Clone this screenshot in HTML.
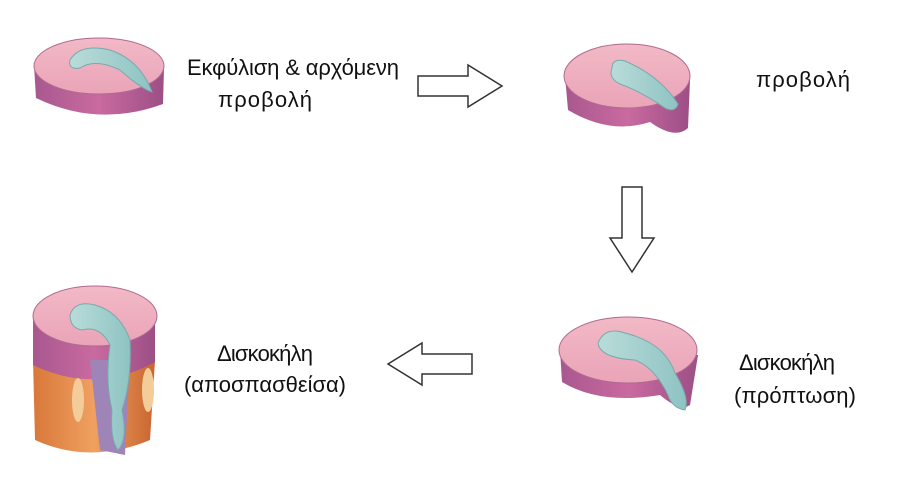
<!DOCTYPE html>
<html><head><meta charset="utf-8"><style>
html,body{margin:0;padding:0;background:#fff}
svg{display:block}
text{font-family:"Liberation Sans","DejaVu Sans",sans-serif;font-size:22px;fill:#111}
</style></head><body>
<svg width="913" height="495" viewBox="0 0 913 495">
<defs>
<linearGradient id="side" x1="0" x2="1"><stop offset="0" stop-color="#a8588f"/><stop offset=".5" stop-color="#c96aa0"/><stop offset="1" stop-color="#9c4f86"/></linearGradient>
<linearGradient id="top" x1="0" y1="0" x2="0" y2="1"><stop offset="0" stop-color="#f2b9c6"/><stop offset="1" stop-color="#eaa4b8"/></linearGradient>
<linearGradient id="nuc" x1="0" x2="1"><stop offset="0" stop-color="#b9dcd9"/><stop offset="1" stop-color="#8ec3c3"/></linearGradient>
<linearGradient id="bone" x1="0" x2="1"><stop offset="0" stop-color="#d8783a"/><stop offset=".5" stop-color="#f0a060"/><stop offset="1" stop-color="#c86530"/></linearGradient>
</defs>
<path d="M34 66 L36 98 Q98 128 163 104 L164 68 Z" fill="url(#side)"/>
<ellipse cx="99" cy="66" rx="65" ry="28" fill="url(#top)" stroke="#b06a90"/>
<path d="M70 60 Q80 43 110 50 Q140 60 152 92 Q140 88 120 70 Q95 58 80 68 Q68 70 70 60Z" fill="url(#nuc)" stroke="#7aa"/>
<path d="M565 76 L568 110 Q610 135 650 122 Q675 140 688 128 L690 80 Z" fill="url(#side)"/>
<ellipse cx="627" cy="76" rx="63" ry="32" fill="url(#top)" stroke="#b06a90"/>
<path d="M612 68 Q612 58 625 61 Q660 76 678 104 Q675 113 665 108 Q640 91 620 84 Q608 78 612 68Z" fill="url(#nuc)" stroke="#7aa"/>
<path d="M560 350 L562 382 Q600 405 660 395 Q680 412 690 405 L698 355 Z" fill="url(#side)"/>
<ellipse cx="628" cy="350" rx="69" ry="33" fill="url(#top)" stroke="#b06a90"/>
<path d="M598 343 Q605 326 625 333 Q665 343 675 373 Q690 398 685 410 Q672 408 668 395 Q655 368 635 360 Q600 358 598 343Z" fill="url(#nuc)" stroke="#7aa"/>
<path d="M33 360 L35 440 Q90 465 150 440 L155 360 Z" fill="url(#bone)"/>
<path d="M33 318 L33 365 Q95 395 155 362 L155 316 Z" fill="url(#side)"/>
<ellipse cx="95" cy="316" rx="62" ry="30" fill="url(#top)" stroke="#b06a90"/>
<path d="M90 360 L100 450 L125 455 L130 360Z" fill="#9f84b8"/>
<path d="M70 315 Q75 300 95 305 Q120 312 130 340 Q132 380 122 410 Q128 440 118 450 Q110 440 112 410 Q105 380 110 345 Q100 325 82 330 Q70 328 70 315Z" fill="url(#nuc)" stroke="#7aa"/>
<ellipse cx="148" cy="390" rx="6" ry="22" fill="#f4cc9a"/>
<ellipse cx="78" cy="400" rx="6" ry="22" fill="#f4cc9a"/>
<polygon points="418,76 468,76 468,65 502,86 468,107 468,96 418,96" fill="#fff" stroke="#333" stroke-width="1.5"/>
<polygon points="622,187 642,187 642,238 654,238 632,272 610,238 622,238" fill="#fff" stroke="#333" stroke-width="1.5"/>
<polygon points="472,354 422,354 422,343 388,364 422,385 422,374 472,374" fill="#fff" stroke="#333" stroke-width="1.5"/>
<text x="293" y="75" text-anchor="middle" textLength="212">Εκφύλιση &amp; αρχόμενη</text>
<text x="265" y="107" text-anchor="middle" textLength="94">προβολή</text>
<text x="803" y="87" text-anchor="middle" textLength="94">προβολή</text>
<text x="787" y="370" text-anchor="middle" textLength="96">Δισκοκήλη</text>
<text x="795" y="403" text-anchor="middle" textLength="122">(πρόπτωση)</text>
<text x="265" y="361" text-anchor="middle" textLength="96">Δισκοκήλη</text>
<text x="265" y="392" text-anchor="middle" textLength="162">(αποσπασθείσα)</text>
</svg>
</body></html>
